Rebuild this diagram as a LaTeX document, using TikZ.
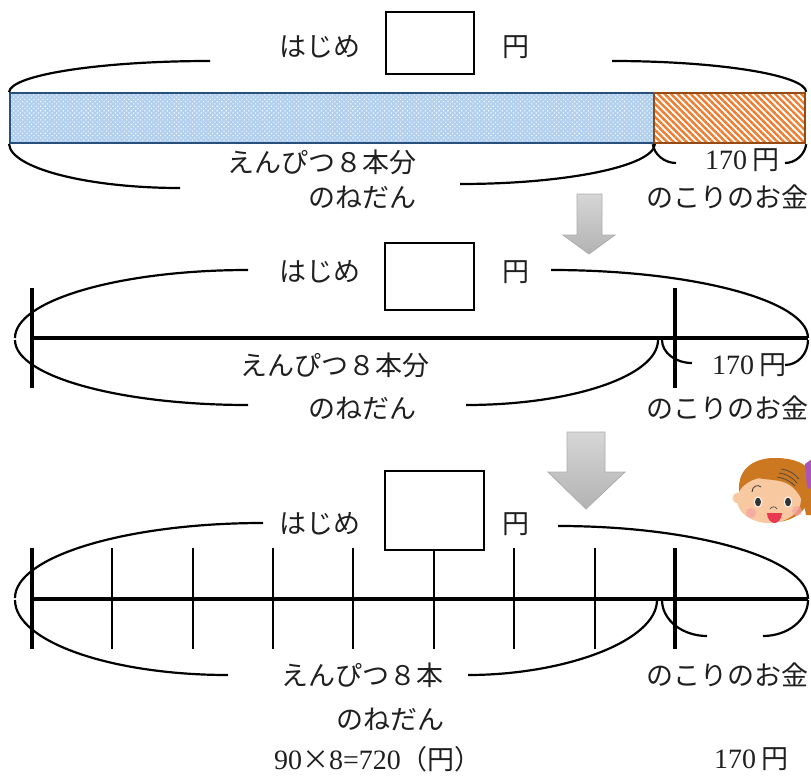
\documentclass[tikz,border=0pt]{standalone}
\usepackage{fontspec}
\setmainfont{Liberation Serif}
\newfontfamily\jp{Noto Sans CJK JP}
\usetikzlibrary{patterns.meta}
\newcommand\digs[1]{{\rmfamily\fontsize{28}{30}\selectfont #1}}
\definecolor{barblue}{RGB}{178,208,238}
\definecolor{barblueline}{RGB}{40,80,125}
\definecolor{barorange}{RGB}{237,125,49}
\definecolor{barbrown}{RGB}{150,75,20}
\definecolor{hair}{RGB}{204,120,32}
\definecolor{skin}{RGB}{248,201,160}
\definecolor{cheek}{RGB}{245,160,165}
\definecolor{mouth}{RGB}{232,55,80}
\definecolor{ribbon}{RGB}{170,85,185}
\begin{document}
\begin{tikzpicture}[x=1pt,y=-1pt,
  txt/.style={font=\jp\fontsize{27}{30}\selectfont, text=black!88, inner sep=0pt},
  ansbox/.style={draw=black, line width=2.4pt, inner sep=0pt},
  brace/.style={draw=black, line width=2.2pt},
  axis/.style={line width=3.4pt},
  bigtick/.style={line width=4pt},
  smalltick/.style={line width=2pt},
  downarrow/.style={draw=black!32, line width=0.8pt, top color=black!16, bottom color=black!30},
  costbar/.style={draw=barblueline, line width=1.8pt, inner sep=0pt,
    preaction={fill=barblue},
    pattern={Dots[radius=0.75pt,distance=3.2pt,angle=45]}, pattern color=white},
  restbar/.style={draw=barbrown, line width=1.8pt, inner sep=0pt,
    preaction={fill=white},
    pattern={Lines[angle=-45,distance=4.6pt,line width=2.4pt]}, pattern color=barorange},
]
\useasboundingbox (0,0) rectangle (811,776);

% ---------- tape diagram ----------
\node[ansbox, minimum width=88pt, minimum height=62pt] (box1) at (430,43) {};
\node[txt] (beg1) at (320,47) {はじめ};
\node[txt] (yen1) at (516,47) {円};
\node[costbar, minimum width=644pt, minimum height=50pt] (cost) at (332,118) {};
\node[restbar, minimum width=151pt, minimum height=50pt] (rest) at (729.5,118) {};
\node[txt] (pen1) at (322,162) {えんぴつ８本分};
\node[txt] (price1) at (362,197) {のねだん};
\node[txt] (r1) at (742,160) {\digs{170}\hspace{5pt}円};
\node[txt] (left1) at (727,197) {のこりのお金};

\coordinate (t1a) at (210,61);
\coordinate (t1b) at (612,61);
\coordinate (b1a) at (180,188);
\coordinate (b1b) at (460,184);
\coordinate (s1a) at (676,163);
\coordinate (s1b) at (785,163);
\draw[brace] (cost.north west) .. controls (10,75) and (100,61) .. (t1a);
\draw[brace] (rest.north east) .. controls (805,75) and (718,61) .. (t1b);
\draw[brace] (cost.south west) .. controls (10,168) and (87,188) .. (b1a);
\draw[brace] (cost.south east) .. controls (654,166) and (567,184) .. (b1b);
\draw[brace] (rest.south west) .. controls (654,154) and (664,163) .. (s1a);
\draw[brace] (rest.south east) .. controls (805,154) and (796,163) .. (s1b);

\draw[downarrow] (577,194) -- (602,194) -- (602,235) -- (615,235) -- (589,254)
  -- (563,235) -- (577,235) -- cycle;

% ---------- number line ----------
\node[ansbox, minimum width=89pt, minimum height=67pt] (box2) at (429.5,276.5) {};
\node[txt] (beg2) at (320,272) {はじめ};
\node[txt] (yen2) at (516,272) {円};
\node[txt] (pen2) at (335,365) {えんぴつ８本分};
\node[txt] (price2) at (362,408) {のねだん};
\node[txt] (r2) at (749,365) {\digs{170}\hspace{5pt}円};
\node[txt] (left2) at (727,408) {のこりのお金};

\coordinate (a2) at (32,338);
\coordinate (m2) at (675,338);
\coordinate (e2) at (808,338);
\draw[axis] (a2) -- (e2);
\draw[bigtick] ([yshift=-50pt]a2) -- ([yshift=50pt]a2);
\draw[bigtick] ([yshift=-50pt]m2) -- ([yshift=50pt]m2);

\coordinate (t2a) at (248,270);
\coordinate (l2a) at (15,338);
\coordinate (l2b) at (15,340);
\coordinate (b2a) at (248,405);
\coordinate (t2b) at (551,270);
\coordinate (c2) at (658,340);
\coordinate (b2b) at (466,405);
\coordinate (c2s) at (662,340);
\coordinate (s2a) at (692,363);
\coordinate (e2s) at (808,340);
\coordinate (s2b) at (785,365);
\draw[brace] (t2a) .. controls (119,270) and (15,300.5) .. (l2a);
\draw[brace] (l2b) .. controls (15,376) and (119,405) .. (b2a);
\draw[brace] (t2b) .. controls (693,270) and (808,300.5) .. (e2);
\draw[brace] (c2) .. controls (658,376) and (572,405) .. (b2b);
\draw[brace] (c2s) .. controls (662,352.7) and (675.4,363) .. (s2a);
\draw[brace] (e2s) .. controls (808,353.8) and (797.7,365) .. (s2b);

\draw[downarrow] (567,432) -- (605,432) -- (605,472) -- (625,472) -- (586,509)
  -- (548,472) -- (567,472) -- cycle;

% ---------- number line with eight parts ----------
\node[ansbox, minimum width=99pt, minimum height=79pt] (box3) at (434.5,510.5) {};
\node[txt] (beg3) at (320,524) {はじめ};
\node[txt] (yen3) at (516,524) {円};
\node[txt] (pen3) at (362,675) {えんぴつ８本};
\node[txt] (price3) at (390,719) {のねだん};
\node[txt] (calc3) at (378,759) {\digs{90}×\digs{8=720}（円）};
\node[txt] (left3) at (727,675) {のこりのお金};
\node[txt] (r3) at (751,759) {\digs{170}\hspace{5pt}円};

\coordinate (a3) at (32,599);
\coordinate (m3) at (675,599);
\coordinate (e3) at (808,599);
\draw[axis] (a3) -- (e3);
\draw[bigtick] (32,548) -- (32,649);
\draw[bigtick] (675,548) -- (675,649);
\foreach \tx in {112,193,273,353,514,595}
  \draw[smalltick] (\tx,548) -- (\tx,649);
\coordinate (mid3) at (434,649);
\draw[smalltick] (box3.south -| mid3) -- (mid3);

\coordinate (t3a) at (263,523);
\coordinate (l3a) at (15,598);
\coordinate (l3b) at (15,600);
\coordinate (b3a) at (228,675);
\coordinate (t3b) at (558,526);
\coordinate (c3) at (657,600);
\coordinate (b3b) at (468,675);
\coordinate (c3s) at (662,600);
\coordinate (s3a) at (707,636);
\coordinate (e3s) at (808,600);
\coordinate (s3b) at (763,636);
\draw[brace] (t3a) .. controls (126,523) and (15,556.6) .. (l3a);
\draw[brace] (l3b) .. controls (15,641.4) and (110.4,675) .. (b3a);
\draw[brace] (t3b) .. controls (696,526) and (808,558.7) .. (e3);
\draw[brace] (c3) .. controls (657,641.4) and (563.7,675) .. (b3b);
\draw[brace] (c3s) .. controls (662,619.9) and (682.2,636) .. (s3a);
\draw[brace] (e3s) .. controls (808,619.9) and (787.8,636) .. (s3b);

% ---------- girl's face ----------
\begin{scope}
\clip (0,0) rectangle (811,776);
\fill[hair] (775,490) ellipse [x radius=36, y radius=32];
\fill[skin] (769,500) ellipse [x radius=32, y radius=23];
\fill[skin] (738,498) circle [radius=5.5];
\fill[hair] (739,490) .. controls (738,470) and (752,458) .. (775,458)
  .. controls (798,458) and (811,466) .. (815,480) -- (815,515) -- (806,515)
  .. controls (804,500) and (797,488) .. (786,483)
  .. controls (776,479) and (766,480) .. (758,478)
  .. controls (750,477) and (743,482) .. (739,490) -- cycle;
\fill[ribbon] (805,464) -- (812,459) -- (812,490) -- (807,487) -- cycle;
\draw[black!70, line width=0.8pt] (781,469) .. controls (789,470) and (795,474) .. (799,479);
\draw[black!70, line width=0.8pt] (779,473) .. controls (787,474) and (793,478) .. (797,483);
\draw[black!70, line width=0.8pt] (777,477) .. controls (785,478) and (791,482) .. (795,486);
\fill[cheek, opacity=0.7] (751,513) circle [radius=5];
\fill[cheek, opacity=0.7] (797,511) circle [radius=5];
\fill[white] (758,502) ellipse [x radius=4.2, y radius=5.6];
\fill[white] (788,502) ellipse [x radius=4.2, y radius=5.6];
\fill[black!80] (758,502) ellipse [x radius=3, y radius=4.4];
\fill[black!80] (788,502) ellipse [x radius=3, y radius=4.4];
\draw[black!80, line width=0.8pt] (752,492) .. controls (752,486) and (758,484) .. (761,487);
\draw[black!70, line width=0.7pt] (770,509) .. controls (772,506) and (775,506) .. (777,509);
\fill[mouth] (767,513) -- (782,513) .. controls (782,520) and (777,523) .. (774.5,523)
  .. controls (772,523) and (767,520) .. (767,513) -- cycle;
\end{scope}
\end{tikzpicture}
\end{document}
